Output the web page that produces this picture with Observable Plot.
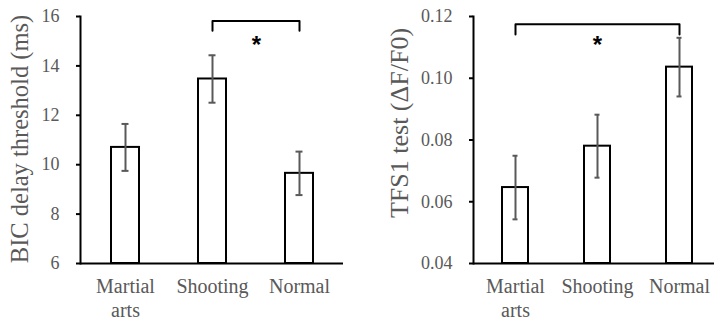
<!DOCTYPE html>
<html><head><meta charset="utf-8">
<script src="https://cdn.jsdelivr.net/npm/d3@7"></script>
<script src="https://cdn.jsdelivr.net/npm/@observablehq/plot@0.6"></script>
<style>
body{margin:0;background:#fff;}
#wrap{display:flex;width:714px;height:320px;overflow:hidden;}
#wrap svg{flex:none;overflow:hidden;}
</style></head><body><div id="wrap"></div>
<script>
const groups = ["Martial arts", "Shooting", "Normal"];
const bicMean = [10.70, 13.47, 9.65];
const bicErr = [0.95, 0.96, 0.88];
const tfsMean = [0.0646, 0.0780, 0.1036];
const tfsErr = [0.0103, 0.0102, 0.0095];
const bicTicks = [6, 8, 10, 12, 14, 16];
const tfsTicks = [0.04, 0.06, 0.08, 0.10, 0.12];
const bicLabel = "BIC delay threshold (ms)";
const tfsLabel = "TFS1 test (\u0394F/F0)";
const bicSig = {from: "Shooting", to: "Normal", top: 15.82, leg: 15.42, star: 15.04, text: "*"};
const tfsSig = {from: "Martial arts", to: "Normal", top: 0.1175, leg: 0.1142, star: 0.1122, text: "*"};

const GRAY = "#595959";
const SERIF = "'Liberation Serif', 'Times New Roman', Times, 'DejaVu Serif', serif";

function chart({mean, err, ticks, fmt, label, sig, marginLeft, marginRight, xRange, labelDx, labelDy, labelSize}) {
  const data = groups.map((g, i) => ({group: g, mean: mean[i], err: err[i]}));
  const base = ticks[0];
  const bracket = [
    {x: sig.from, y: sig.leg}, {x: sig.from, y: sig.top},
    {x: sig.to, y: sig.top}, {x: sig.to, y: sig.leg}
  ];
  const i0 = groups.indexOf(sig.from), i1 = groups.indexOf(sig.to);
  const mid = (i0 + i1) / 2, midI = Math.floor(mid);
  const step = (xRange[1] - xRange[0]) / groups.length;
  return Plot.plot({
    width: 357, height: 320,
    marginLeft, marginRight, marginTop: 16, marginBottom: 57,
    style: {background: "white", overflow: "hidden"},
    x: {domain: groups, range: xRange, paddingInner: 0.68, paddingOuter: 0.34},
    y: {domain: [ticks[0], ticks[ticks.length - 1]]},
    marks: [
      Plot.barY(data, {x: "group", y1: base, y2: "mean", fill: "white", stroke: "black", strokeWidth: 2}),
      Plot.ruleX(data, {x: "group", y1: d => d.mean - d.err, y2: d => d.mean + d.err, stroke: GRAY, strokeWidth: 2}),
      Plot.tickY(data, {x: "group", y: d => d.mean - d.err, stroke: GRAY, strokeWidth: 2, insetLeft: 10.5, insetRight: 10.5}),
      Plot.tickY(data, {x: "group", y: d => d.mean + d.err, stroke: GRAY, strokeWidth: 2, insetLeft: 10.5, insetRight: 10.5}),
      Plot.line(bracket, {x: "x", y: "y", stroke: "black", strokeWidth: 2}),
      Plot.text([sig], {x: () => groups[midI], y: "star", text: "text", dx: (mid - midI) * step,
        fontSize: 24, fontWeight: "bold", fontFamily: "'Liberation Sans', Arial, sans-serif", fill: "black", lineAnchor: "middle", dy: 5}),
      Plot.axisY({ticks, tickFormat: fmt, tickSize: 4, tickPadding: 17, fontSize: 18, fontFamily: SERIF, fill: GRAY, stroke: "black", strokeWidth: 2, label: null}),
      Plot.axisX({tickSize: 0, tickPadding: 12, fontSize: 20, fontFamily: SERIF, fill: GRAY, lineHeight: 1.22, tickFormat: d => d.replace(" ", "\n"), label: null}),
      Plot.frame({anchor: "left", stroke: "black", strokeWidth: 2}),
      Plot.ruleY([base], {stroke: "black", strokeWidth: 2}),
      Plot.text([label], {frameAnchor: "left", text: d => d, rotate: -90, dx: labelDx, dy: labelDy, fontSize: labelSize, fontFamily: SERIF, fill: GRAY, lineAnchor: "middle", textAnchor: "middle"})
    ]
  });
}

const wrap = document.getElementById("wrap");
wrap.appendChild(chart({mean: bicMean, err: bicErr, ticks: bicTicks, fmt: d3.format("d"), label: bicLabel, sig: bicSig,
  marginLeft: 80, marginRight: 14, xRange: [80, 343], labelDx: -60, labelDy: -1, labelSize: 24.5}));
wrap.appendChild(chart({mean: tfsMean, err: tfsErr, ticks: tfsTicks, fmt: d3.format(".2f"), label: tfsLabel, sig: tfsSig,
  marginLeft: 116, marginRight: 0, xRange: [116, 364], labelDx: -74, labelDy: -17, labelSize: 26}));
</script></body></html>
